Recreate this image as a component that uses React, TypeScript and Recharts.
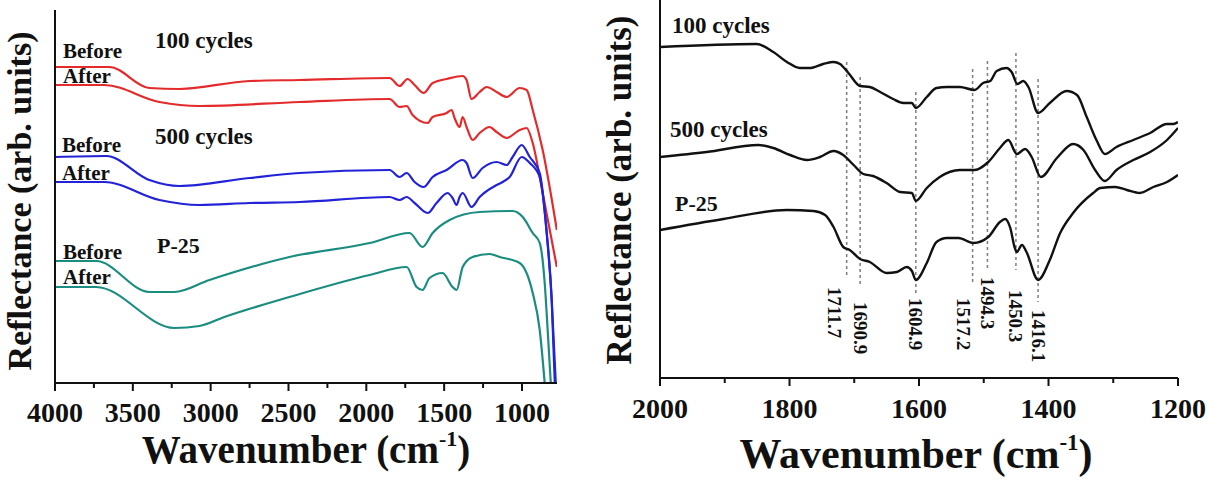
import { LineChart, Line, XAxis, YAxis, ReferenceLine, ReferenceDot } from 'recharts';

// [wavenumber, reflectance (arb.)] pairs
const redBefore = [
  [4000, 316], [3651, 316], [3394, 295], [3201, 294], [2751, 302], [2429, 303], [1851, 305],
  [1786, 297], [1735, 304], [1690, 298], [1632, 290], [1574, 300], [1484, 304], [1381, 307],
  [1356, 303], [1324, 284], [1272, 291], [1227, 296], [1163, 291], [1098, 286], [1015, 295],
  [970, 293], [931, 273], [867, 233], [776, 153],
];
const redAfter = [
  [4000, 298], [3683, 298], [3329, 281], [3072, 277], [2429, 281], [1851, 284], [1786, 276],
  [1741, 277], [1703, 268], [1606, 260], [1574, 266], [1484, 270], [1452, 273], [1433, 265],
  [1401, 256], [1381, 266], [1356, 256], [1317, 243], [1272, 250], [1208, 256], [1163, 251],
  [1098, 245], [1015, 253], [970, 255], [931, 240], [867, 190], [776, 116],
];
const blueBefore = [
  [4000, 226], [3670, 227], [3394, 203], [3201, 197], [2751, 205], [2429, 210], [1851, 213],
  [1786, 206], [1741, 210], [1690, 201], [1632, 196], [1574, 206], [1484, 213], [1381, 223],
  [1356, 220], [1317, 205], [1253, 215], [1163, 221], [1098, 218], [1060, 226], [1002, 238],
  [950, 226], [886, 210], [841, 150], [809, 83], [783, 0],
];
const blueAfter = [
  [4000, 201], [3683, 201], [3329, 183], [3072, 178], [2751, 180], [2429, 181], [1851, 186],
  [1786, 183], [1741, 186], [1690, 180], [1606, 170], [1549, 180], [1478, 190], [1446, 185],
  [1420, 178], [1401, 186], [1381, 190], [1324, 176], [1272, 186], [1163, 198], [1124, 201],
  [1079, 206], [1002, 226], [950, 220], [886, 206], [841, 150], [809, 83], [789, 0],
];
const tealBefore = [
  [4000, 122], [3735, 122], [3394, 91], [3233, 91], [3008, 103], [2494, 126], [1979, 140],
  [1722, 150], [1639, 136], [1574, 150], [1465, 163], [1272, 171], [1060, 172], [995, 166],
  [931, 150], [886, 140], [854, 100], [835, 53], [815, 0],
];
const tealAfter = [
  [4000, 96], [3735, 96], [3233, 55], [3072, 57], [2912, 66], [2494, 86], [1979, 108],
  [1741, 116], [1677, 96], [1639, 93], [1594, 105], [1510, 110], [1446, 96], [1420, 93],
  [1381, 116], [1317, 126], [1208, 129], [1143, 126], [1015, 120], [931, 90], [886, 53],
  [854, 0],
];

const cycles100 = [
  [2000, 331], [1851, 334], [1825, 326], [1804, 316], [1784, 310], [1769, 310], [1748, 314],
  [1732, 316], [1722, 314], [1709, 305], [1691, 292], [1676, 291], [1660, 286], [1640, 279],
  [1624, 275], [1611, 275], [1605, 270], [1588, 281], [1573, 290], [1557, 291], [1537, 291],
  [1514, 288], [1501, 295], [1490, 297], [1480, 307], [1465, 310], [1457, 306], [1448, 294],
  [1439, 297], [1431, 291], [1416, 265], [1398, 275], [1372, 287], [1356, 283], [1341, 261],
  [1326, 238], [1313, 224], [1295, 231], [1269, 238], [1243, 245], [1217, 254], [1207, 254],
  [1200, 256],
];
const cycles500 = [
  [2000, 221], [1928, 226], [1848, 233], [1825, 230], [1799, 223], [1773, 218], [1753, 221],
  [1732, 227], [1717, 223], [1701, 213], [1686, 204], [1671, 202], [1650, 195], [1629, 186],
  [1611, 185], [1605, 177], [1588, 190], [1568, 201], [1537, 208], [1514, 208], [1493, 216],
  [1475, 230], [1462, 238], [1449, 224], [1436, 229], [1426, 221], [1412, 201], [1387, 220],
  [1362, 234], [1346, 228], [1328, 208], [1313, 197], [1295, 208], [1269, 218], [1243, 226],
  [1217, 238], [1200, 250],
];
const p25 = [
  [2000, 148], [1902, 159], [1804, 168], [1763, 167], [1745, 163], [1732, 151], [1717, 131],
  [1707, 128], [1691, 119], [1676, 116], [1650, 105], [1634, 106], [1619, 111], [1611, 107],
  [1605, 98], [1588, 115], [1573, 136], [1557, 140], [1539, 140], [1516, 135], [1493, 141],
  [1475, 156], [1467, 159], [1459, 150], [1452, 130], [1449, 126], [1441, 133], [1434, 126],
  [1416, 98], [1398, 118], [1382, 145], [1362, 165], [1331, 185], [1320, 190], [1297, 191],
  [1279, 188], [1259, 185], [1238, 191], [1217, 196], [1200, 203],
];

const fullMajor = [4000, 3500, 3000, 2500, 2000, 1500, 1000];
const fullMinor = [3750, 3250, 2750, 2250, 1750, 1250];
const zoomMajor = [2000, 1800, 1600, 1400, 1200];
const zoomMinor = [1900, 1700, 1500, 1300];

const peaks = [1711.7, 1690.9, 1604.9, 1517.2, 1494.3, 1450.3, 1416.1];
// guide extents and label placement for each peak, in the y units of the right panel
const guideTop = [316, 301, 286, 309, 317, 325, 299];
const guideBottom = [103, 93, 85, 95, 108, 108, 76];
const labelTop = [91, 76, 80, 80, 101, 88, 68];
const labelShift = [-12, 0, 0, -9, 0, 0, 0];

const SERIF = '"Liberation Serif", "Times New Roman", serif';
const INK = '#111';
const RED = '#e32b2b';
const BLUE = '#2222d8';
const TEAL = '#1b8c80';

const pts = (rows: number[][]) => rows.map(([w, v]) => ({ w, v }));

function AxisTick(props: any) {
  const { x, y, payload, majors, labelDy } = props;
  const major = majors.includes(payload.value);
  return (
    <g>
      <line x1={x} y1={y} x2={x} y2={y + (major ? 8 : 5)} stroke={INK} strokeWidth={2} />
      {major && (
        <text x={x} y={y + labelDy} textAnchor="middle" fontFamily={SERIF} fontWeight="bold"
          fontSize={28} fill={INK}>{payload.value}</text>
      )}
    </g>
  );
}

function PeakLabel(props: any) {
  const { cx, cy, text, shift } = props;
  const x = cx + shift;
  return (
    <text x={x} y={cy} transform={`rotate(90, ${x}, ${cy})`} textAnchor="start"
      dominantBaseline="central" fontFamily={SERIF} fontWeight="bold" fontSize={19} fill={INK}>
      {text}
    </text>
  );
}

function Tag({ x, y, size, children }: any) {
  return (
    <text x={x} y={y} fontFamily={SERIF} fontWeight="bold" fontSize={size} fill={INK}>{children}</text>
  );
}

export default function App() {
  const leftSeries = [
    { data: redBefore, color: RED },
    { data: redAfter, color: RED },
    { data: blueBefore, color: BLUE },
    { data: blueAfter, color: BLUE },
    { data: tealBefore, color: TEAL },
    { data: tealAfter, color: TEAL },
  ];
  const rightSeries = [cycles100, cycles500, p25];

  return (
    <div style={{ position: 'absolute', left: 0, top: 0, width: 1212, height: 493, background: '#fff' }}>
      <div style={{ position: 'absolute', left: 0, top: 0 }}>
        <LineChart width={600} height={493} margin={{ top: 10, right: 43, bottom: 0, left: 0 }}>
          <XAxis type="number" dataKey="w" domain={[775, 4000]} reversed allowDataOverflow
            ticks={[...fullMajor, ...fullMinor]} interval={0} height={110}
            axisLine={{ stroke: INK, strokeWidth: 2 }} tickLine={false} tickSize={0} tickMargin={0}
            tick={(p: any) => <AxisTick {...p} majors={fullMajor} labelDy={39} />} />
          <YAxis type="number" domain={[0, 373]} allowDataOverflow width={55} tick={false}
            tickLine={false} axisLine={{ stroke: INK, strokeWidth: 2 }} />
          {leftSeries.map((s, i) => (
            <Line key={i} data={pts(s.data)} dataKey="v" type="monotone" stroke={s.color}
              strokeWidth={2.2} dot={false} isAnimationActive={false} />
          ))}
        </LineChart>
      </div>

      <div style={{ position: 'absolute', left: 600, top: 0 }}>
        <LineChart width={612} height={493} margin={{ top: 0, right: 34, bottom: 0, left: 0 }}>
          <XAxis type="number" dataKey="w" domain={[1200, 2000]} reversed allowDataOverflow
            ticks={[...zoomMajor, ...zoomMinor]} interval={0} height={115}
            axisLine={{ stroke: INK, strokeWidth: 2 }} tickLine={false} tickSize={0} tickMargin={0}
            tick={(p: any) => <AxisTick {...p} majors={zoomMajor} labelDy={40} />} />
          <YAxis type="number" domain={[0, 378]} allowDataOverflow width={60} tick={false}
            tickLine={false} axisLine={{ stroke: INK, strokeWidth: 2 }} />
          {peaks.map((p, i) => (
            <ReferenceLine key={`g${p}`} segment={[{ x: p, y: guideTop[i] }, { x: p, y: guideBottom[i] }]}
              stroke="#7c7c7c" strokeWidth={1.5} strokeDasharray="3 3" ifOverflow="visible" />
          ))}
          {rightSeries.map((d, i) => (
            <Line key={i} data={pts(d)} dataKey="v" type="monotone" stroke={INK}
              strokeWidth={2.4} dot={false} isAnimationActive={false} />
          ))}
          {peaks.map((p, i) => (
            <ReferenceDot key={`l${p}`} x={p} y={labelTop[i]} r={0} ifOverflow="visible"
              shape={(sp: any) => <PeakLabel {...sp} text={String(p)} shift={labelShift[i]} />} />
          ))}
        </LineChart>
      </div>

      <svg width={1212} height={493} style={{ position: 'absolute', left: 0, top: 0, pointerEvents: 'none' }}>
        <text x={31} y={201} transform="rotate(-90, 31, 201)" textAnchor="middle" fontFamily={SERIF}
          fontWeight="bold" fontSize={34} fill={INK}>Reflectance (arb. units)</text>
        <text x={631} y={190} transform="rotate(-90, 631, 190)" textAnchor="middle" fontFamily={SERIF}
          fontWeight="bold" fontSize={35} fill={INK}>Reflectance (arb. units)</text>

        <text x={306} y={463} textAnchor="middle" fontFamily={SERIF} fontWeight="bold" fontSize={39} fill={INK}>
          Wavenumber (cm<tspan dy={-17} fontSize={22}>-1</tspan><tspan dy={17}>)</tspan>
        </text>
        <text x={916} y={468} textAnchor="middle" fontFamily={SERIF} fontWeight="bold" fontSize={42} fill={INK}>
          Wavenumber (cm<tspan dy={-18} fontSize={23}>-1</tspan><tspan dy={18}>)</tspan>
        </text>

        <Tag x={155} y={48} size={23}>100 cycles</Tag>
        <Tag x={63} y={58} size={21}>Before</Tag>
        <Tag x={63} y={83} size={21}>After</Tag>
        <Tag x={155} y={144} size={23}>500 cycles</Tag>
        <Tag x={62} y={152} size={21}>Before</Tag>
        <Tag x={62} y={180} size={21}>After</Tag>
        <Tag x={157} y={253} size={22}>P-25</Tag>
        <Tag x={63} y={259} size={21}>Before</Tag>
        <Tag x={63} y={284} size={21}>After</Tag>

        <Tag x={672} y={33} size={23}>100 cycles</Tag>
        <Tag x={670} y={137} size={23}>500 cycles</Tag>
        <Tag x={675} y={211} size={22}>P-25</Tag>
      </svg>
    </div>
  );
}
